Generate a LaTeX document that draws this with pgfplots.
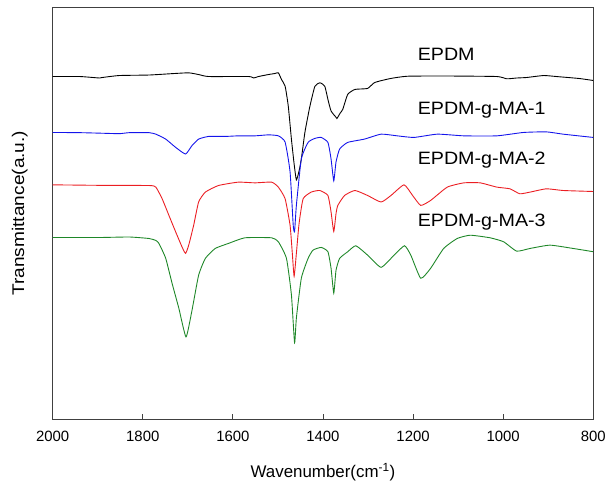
\documentclass[border=0pt]{standalone}
\usepackage{fontspec}
\setmainfont{Liberation Sans}
\newfontfamily\labfont[FakeStretch=1.1]{Liberation Sans}
\newfontfamily\ylabfont[FakeStretch=1.13]{Liberation Sans}
\usepackage{pgfplots}
\pgfplotsset{compat=1.18}
\definecolor{frame}{RGB}{64,64,64}
\definecolor{cblue}{RGB}{20,20,235}
\definecolor{cred}{RGB}{235,30,35}
\definecolor{cgreen}{RGB}{30,135,40}
\begin{document}
\begin{tikzpicture}
\begin{axis}[
  scale only axis, width=544pt, height=415pt,
  x dir=reverse, xmin=800, xmax=2000, ymin=0, ymax=415,
  axis line style={frame, line width=0.9pt},
  xtick={2000,1800,1600,1400,1200,1000,800},
  xtick pos=bottom, tick align=inside, major tick length=5pt,
  tick style={frame, line width=0.9pt},
  ytick=\empty,
  /pgf/number format/assume math mode=true,
  /pgf/number format/1000 sep={},
  xticklabel style={font=\fontsize{15}{17}\selectfont, anchor=center, yshift=-17pt},
  xlabel={Wavenumber(cm\textsuperscript{-1})},
  ylabel={Transmittance(a.u.)},
  every axis x label/.style={at={(axis description cs:0.5,0)}, anchor=center, yshift=-53pt, font=\fontsize{17}{19}\selectfont},
  every axis y label/.style={at={(axis description cs:0,0.5)}, xshift=-33pt, anchor=center, rotate=90, font=\ylabfont\fontsize{17}{19}\selectfont},
  every axis plot/.append style={smooth, tension=0.3, line width=0.9pt},
  clip=true,
]
% EPDM
\addplot[black] coordinates {
(2000,345) (1940,345) (1896,343.5) (1890,344) (1852,346) (1786,346.5) (1731,348) (1698,348.7) (1676,347) (1654,345) (1565,345) (1554,343.5) (1543,345) (1521,347) (1507,348) (1499,348.7) (1492,342) (1484,335.3) (1477,315.3) (1470,282) (1464,257) (1459,241) (1453,250) (1448,262) (1440,289) (1429,315) (1418,335) (1407,338.7) (1396,335.3) (1389,322) (1382,310.3) (1371,304) (1369,302.7) (1362,308) (1356,312) (1345,327) (1329,332) (1301,333) (1285,339) (1250,343) (1212,345.3) (1124,345.5) (1014,345) (992,342.7) (970,343.5) (948,344) (910,346) (882,345) (831,343) (800,341)
};
% EPDM-g-MA-1
\addplot[cblue] coordinates {
(2000,288.7) (1940,288.5) (1896,288) (1852,287.5) (1830,288.5) (1786,288.5) (1771,287) (1749,282) (1727,273.7) (1705,267) (1691,275.3) (1676,282) (1654,284.7) (1617,284.7) (1588,285.3) (1551,285.3) (1521,286.3) (1499,285.3) (1484,279) (1473,249) (1466,195.3) (1463,189) (1459,215.3) (1448,262) (1433,278.7) (1418,282.7) (1404,283.7) (1389,278.7) (1382,262) (1376,240) (1371,259) (1363,272) (1345,278.7) (1308,282) (1271,287) (1235,285.3) (1198,283.7) (1146,287) (1087,285.3) (1014,285.3) (955,288.7) (904,289.3) (867,287) (800,283.7)
};
% EPDM-g-MA-2
\addplot[cred] coordinates {
(2000,236) (1896,235.5) (1786,235.3) (1771,233.7) (1757,222) (1742,205.3) (1727,188.7) (1713,173.7) (1705,167) (1698,175.3) (1687,195.3) (1676,218.7) (1661,228.7) (1632,235.3) (1588,238.7) (1551,238) (1514,238.7) (1499,233.7) (1484,222) (1473,195.3) (1468,167) (1464,144) (1459,167) (1453,197) (1444,222) (1426,228.7) (1407,230.3) (1389,225.3) (1382,208.7) (1376,189) (1371,207) (1367,215.3) (1352,225.3) (1329,230.3) (1301,225.3) (1271,218.7) (1249,225.3) (1220,236) (1201,225.3) (1183,215.3) (1161,220.3) (1124,233.7) (1087,238) (1051,238) (1014,233.7) (985,232) (963,227) (940,228.7) (904,232) (867,230.3) (800,229.3)
};
% EPDM-g-MA-3
\addplot[cgreen] coordinates {
(2000,183) (1896,183) (1830,183.5) (1786,182) (1771,180) (1764,177) (1749,162) (1735,137) (1720,112) (1704,83) (1691,109) (1676,145) (1661,162) (1639,172) (1610,177) (1573,182.7) (1514,182.7) (1499,178.7) (1481,162) (1470,125.3) (1463,77) (1459,102) (1448,142) (1433,162) (1422,170.3) (1404,173) (1389,168.7) (1382,152) (1376,127) (1371,150) (1363,162) (1345,168.7) (1327,174.7) (1301,165.3) (1271,153) (1242,165.3) (1219,174.7) (1205,165.3) (1183,142) (1161,152) (1132,172) (1102,182) (1073,185.3) (1029,182.7) (999,178.7) (970,169.3) (940,172) (896,175.3) (845,172) (800,168.7)
};
\node[anchor=west, font=\labfont\fontsize{18}{20}\selectfont, inner sep=0pt] at (axis cs:1190,367) {EPDM};
\node[anchor=west, font=\labfont\fontsize{18}{20}\selectfont, inner sep=0pt] at (axis cs:1190,311) {EPDM-g-MA-1};
\node[anchor=west, font=\labfont\fontsize{18}{20}\selectfont, inner sep=0pt] at (axis cs:1190,261) {EPDM-g-MA-2};
\node[anchor=west, font=\labfont\fontsize{18}{20}\selectfont, inner sep=0pt] at (axis cs:1190,198) {EPDM-g-MA-3};
\end{axis}
\path (current axis.south west) ++(-53pt,-66pt);
\path (current axis.north east) ++(12pt,7pt);
\end{tikzpicture}
\end{document}
